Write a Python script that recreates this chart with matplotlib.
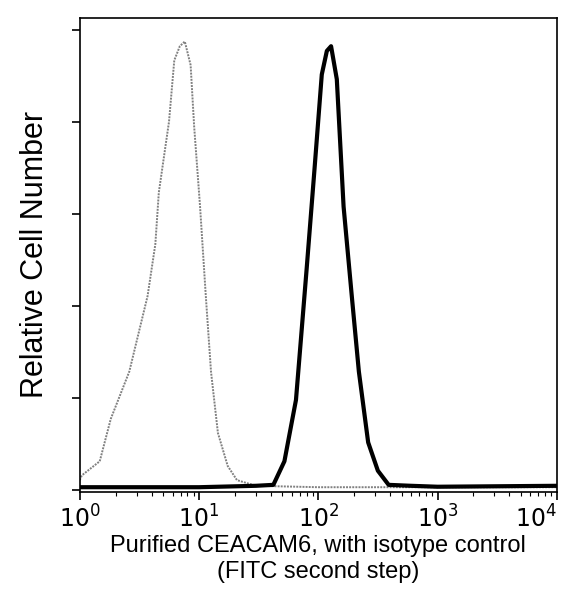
import numpy as np
import matplotlib.pyplot as plt
from matplotlib.ticker import LogLocator, NullFormatter

plt.rcParams['font.family'] = ['Liberation Sans', 'DejaVu Sans']

# isotype control histogram
iso_x = [1.0, 1.04, 1.47, 1.82, 2.6, 3.7, 4.3, 4.6, 5.6, 6.2, 6.9, 7.6, 8.5, 9.1,
         10.2, 11.4, 12.6, 14.4, 17.4, 20.8, 30, 100, 1000, 10000]
iso_y = [2, 3, 6, 15, 25, 41, 52, 63, 78, 91, 94, 95, 90, 77,
         60, 41, 25, 12, 5, 2, 0.8, 0.5, 0.5, 0.5]

# CEACAM6 histogram
cea_x = [1.0, 10, 30, 42, 52, 65, 80, 93, 107, 118, 128, 143, 163, 191, 219,
         262, 316, 389, 600, 1000, 10000]
cea_y = [0.5, 0.5, 0.8, 1, 6, 19, 47, 68, 88, 93, 94, 87, 60, 41, 25,
         10, 4, 1, 0.8, 0.6, 0.8]

fig = plt.figure(figsize=(5.74, 5.97), dpi=100)
ax = fig.add_axes([0.139, 0.176, 0.831, 0.794])

ax.plot(iso_x, iso_y, color='0.5', lw=1.4, ls=(0, (1, 0.6)))
ax.plot(cea_x, cea_y, color='black', lw=3)

ax.set_xscale('log')
ax.set_xlim(1, 1e4)
ax.set_ylim(-0.5, 100)
ax.set_xticks([1, 10, 100, 1000, 10000])
ax.set_xticklabels(['$10^0$', '$10^1$', '$10^2$', '$10^3$', '$10^4$'], fontsize=17)
ax.get_xticklabels()[-1].set_ha('right')
ax.xaxis.set_minor_locator(LogLocator(base=10, subs=np.arange(2, 10)))
ax.xaxis.set_minor_formatter(NullFormatter())
ax.set_yticks([0, 19.5, 39, 58.5, 78, 97.5])
ax.set_yticklabels([])
ax.tick_params(axis='both', which='major', length=6, width=1.2, direction='out')
ax.tick_params(axis='both', which='minor', length=3, width=0.8, direction='out')
for s in ax.spines.values():
    s.set_linewidth(1.2)

ax.set_xlabel('Purified CEACAM6, with isotype control\n(FITC second step)',
              fontsize=17, labelpad=2, linespacing=1.25)
ax.set_ylabel('Relative Cell Number', fontsize=22, labelpad=12)

fig.savefig('out.png', dpi=100)
